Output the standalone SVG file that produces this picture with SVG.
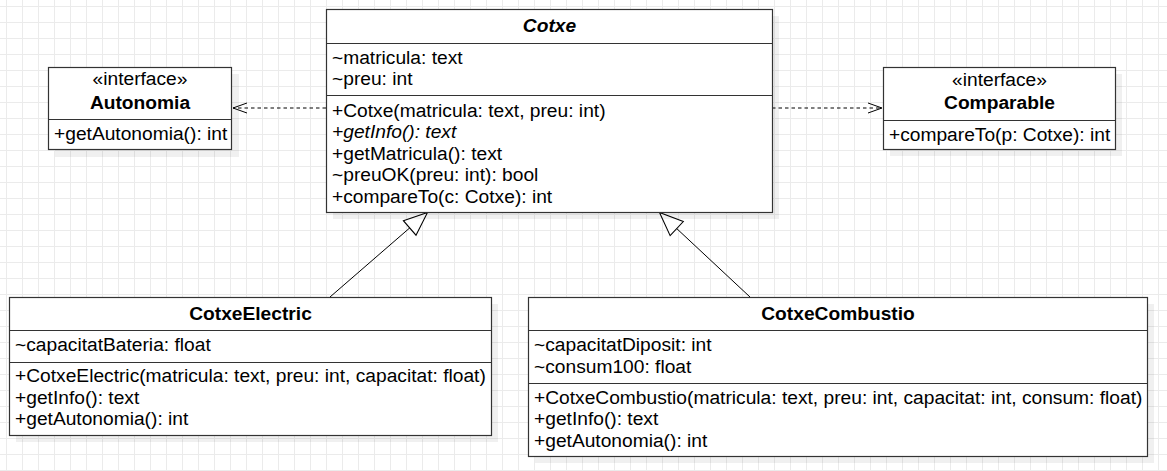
<svg xmlns="http://www.w3.org/2000/svg" width="1167" height="471" viewBox="0 0 1167 471">
<defs>
<pattern id="grid" patternUnits="userSpaceOnUse" x="6" y="6" width="16" height="16">
<path d="M0 0.5H16M0.5 0V16" stroke="#ebebeb" stroke-width="1" fill="none"/>
</pattern>
<marker id="open" markerUnits="userSpaceOnUse" markerWidth="20" markerHeight="20" viewBox="-16 -8 20 16" refX="0" refY="0" orient="auto">
<path d="M-14,-5 L0,0 L-14,5" fill="none" stroke="#000" stroke-width="1"/>
</marker>
<marker id="tri" markerUnits="userSpaceOnUse" markerWidth="30" markerHeight="30" viewBox="-24 -12 28 24" refX="0" refY="0" orient="auto">
<path d="M0,0 L-22,-9 L-22,9 Z" fill="#fff" stroke="#000" stroke-width="1"/>
</marker>
</defs>
<style>
.box{fill:#fff;stroke:#333;stroke-width:1.2}
.sh{fill:#000;fill-opacity:0.06}
.div{stroke:#333;stroke-width:1.2}
text{font-family:"Liberation Sans",Arial,sans-serif;font-size:19.2px;fill:#000}
.c{text-anchor:middle}
.b{font-weight:bold}
.i{font-style:italic}
.dash{fill:none;stroke:#000;stroke-width:1;stroke-dasharray:3.5 3}
.gen{fill:none;stroke:#000;stroke-width:1}
</style>
<rect width="1167" height="471" fill="#fff"/>
<rect width="1167" height="471" fill="url(#grid)"/>

<g id="connectors">
<path class="dash" d="M326,108 H233" marker-end="url(#open)"/>
<path class="dash" d="M772,108 H882" marker-end="url(#open)"/>
<path class="gen" d="M330,297 L427.5,212.5" marker-end="url(#tri)"/>
<path class="gen" d="M750,297 L659.5,212.5" marker-end="url(#tri)"/>
</g>

<g id="Cotxe">
<rect class="sh" x="333" y="16" width="446" height="203"/>
<rect class="box" x="326.5" y="9.5" width="446" height="203"/>
<line class="div" x1="326.5" y1="43.5" x2="772.5" y2="43.5"/>
<line class="div" x1="326.5" y1="95.5" x2="772.5" y2="95.5"/>
<text class="c b i" x="549.5" y="32">Cotxe</text>
<text x="332" y="63.5">~matricula: text</text>
<text x="332" y="85">~preu: int</text>
<text x="332" y="116.5">+Cotxe(matricula: text, preu: int)</text>
<text class="i" x="332" y="138">+getInfo(): text</text>
<text x="332" y="159.5">+getMatricula(): text</text>
<text x="332" y="181">~preuOK(preu: int): bool</text>
<text x="332" y="202.5">+compareTo(c: Cotxe): int</text>
</g>

<g id="Autonomia">
<rect class="sh" x="55" y="74" width="184" height="83"/>
<rect class="box" x="48.5" y="67.5" width="183" height="82"/>
<line class="div" x1="48.5" y1="119.5" x2="231.5" y2="119.5"/>
<text class="c" x="140" y="85">«interface»</text>
<text class="c b" x="140" y="109">Autonomia</text>
<text x="54" y="140">+getAutonomia(): int</text>
</g>

<g id="Comparable">
<rect class="sh" x="890" y="74" width="232" height="82"/>
<rect class="box" x="883.5" y="67.5" width="232" height="82"/>
<line class="div" x1="883.5" y1="120.5" x2="1115.5" y2="120.5"/>
<text class="c" x="999.5" y="86">«interface»</text>
<text class="c b" x="999.5" y="109">Comparable</text>
<text x="889" y="140.5">+compareTo(p: Cotxe): int</text>
</g>

<g id="CotxeElectric">
<rect class="sh" x="16" y="304" width="482" height="138"/>
<rect class="box" x="9.5" y="297.5" width="482" height="138"/>
<line class="div" x1="9.5" y1="330.5" x2="491.5" y2="330.5"/>
<line class="div" x1="9.5" y1="362.5" x2="491.5" y2="362.5"/>
<text class="c b" x="250.5" y="319.5">CotxeElectric</text>
<text x="15" y="351">~capacitatBateria: float</text>
<text x="15" y="382">+CotxeElectric(matricula: text, preu: int, capacitat: float)</text>
<text x="15" y="403.5">+getInfo(): text</text>
<text x="15" y="425">+getAutonomia(): int</text>
</g>

<g id="CotxeCombustio">
<rect class="sh" x="535" y="304" width="619" height="159"/>
<rect class="box" x="528.5" y="297.5" width="619" height="159"/>
<line class="div" x1="528.5" y1="330.5" x2="1147.5" y2="330.5"/>
<line class="div" x1="528.5" y1="383.5" x2="1147.5" y2="383.5"/>
<text class="c b" x="838" y="319.5">CotxeCombustio</text>
<text x="534" y="351">~capacitatDiposit: int</text>
<text x="534" y="372.5">~consum100: float</text>
<text x="534" y="403.5">+CotxeCombustio(matricula: text, preu: int, capacitat: int, consum: float)</text>
<text x="534" y="425">+getInfo(): text</text>
<text x="534" y="446.5">+getAutonomia(): int</text>
</g>
</svg>
